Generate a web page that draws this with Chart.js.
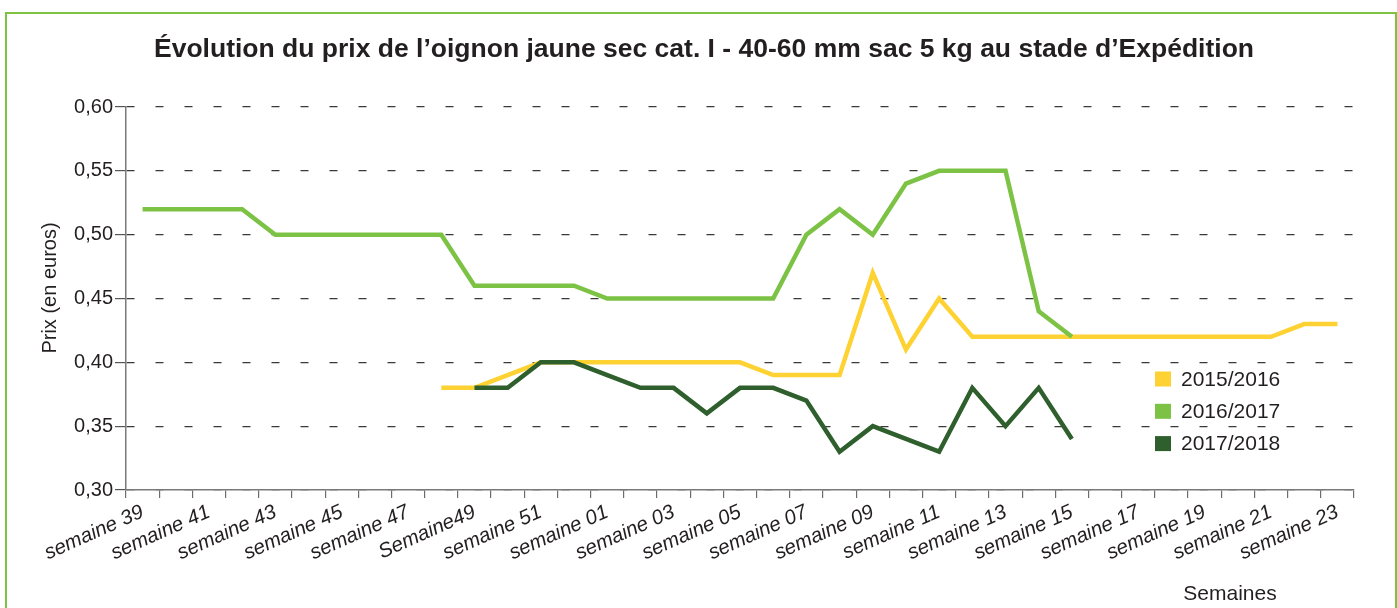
<!DOCTYPE html>
<html><head><meta charset="utf-8">
<script src="https://cdn.jsdelivr.net/npm/chart.js@4.4.0/dist/chart.umd.min.js"></script>
<style>
html,body{margin:0;padding:0;background:#fff;width:1397px;height:608px;overflow:hidden;}
#frame{position:absolute;left:5px;top:12px;width:1388px;height:700px;border:2px solid #7DC243;}
#wrap{position:absolute;left:0;top:0;width:1397px;height:608px;}
</style></head><body>
<div id="frame"></div>
<div id="wrap"><canvas id="c" width="1397" height="608"></canvas></div>
<script>
const titleText = "Évolution du prix de l’oignon jaune sec cat. I - 40-60 mm sac 5 kg au stade d’Expédition";
const yTitle = "Prix (en euros)";
const xTitle = "Semaines";
const weekLabels = ['semaine 39','semaine 40','semaine 41','semaine 42','semaine 43','semaine 44','semaine 45','semaine 46','semaine 47','semaine 48','Semaine49','semaine 50','semaine 51','semaine 52','semaine 01','semaine 02','semaine 03','semaine 04','semaine 05','semaine 06','semaine 07','semaine 08','semaine 09','semaine 10','semaine 11','semaine 12','semaine 13','semaine 14','semaine 15','semaine 16','semaine 17','semaine 18','semaine 19','semaine 20','semaine 21','semaine 22','semaine 23'];
const seriesNames = ['2015/2016','2016/2017','2017/2018'];
const s2015 = [null,null,null,null,null,null,null,null,null,0.38,0.38,0.39,0.40,0.40,0.40,0.40,0.40,0.40,0.40,0.39,0.39,0.39,0.47,0.41,0.45,0.42,0.42,0.42,0.42,0.42,0.42,0.42,0.42,0.42,0.42,0.43,0.43];
const s2016 = [0.52,0.52,0.52,0.52,0.50,0.50,0.50,0.50,0.50,0.50,0.46,0.46,0.46,0.46,0.45,0.45,0.45,0.45,0.45,0.45,0.50,0.52,0.50,0.54,0.55,0.55,0.55,0.44,0.42,null,null,null,null,null,null,null,null];
const s2017 = [null,null,null,null,null,null,null,null,null,null,0.38,0.38,0.40,0.40,0.39,0.38,0.38,0.36,0.38,0.38,0.37,0.33,0.35,0.34,0.33,0.38,0.35,0.38,0.34,null,null,null,null,null,null,null,null];
const yMin = 0.30, yMax = 0.60, yStep = 0.05;
const colors = ['#FED233','#7CC244','#2E5F2D'];

Chart.defaults.font.family = "'Liberation Sans', Arial, sans-serif";
Chart.defaults.color = '#231F20';

const overlay = {
  id: 'overlay',
  afterDraw(chart) {
    const ctx = chart.ctx;
    ctx.save();
    ctx.fillStyle = '#231F20';
    ctx.font = "20px 'Liberation Sans', Arial, sans-serif";
    ctx.textAlign = 'center';
    ctx.textBaseline = 'middle';
    ctx.translate(50, 288);
    ctx.rotate(-Math.PI / 2);
    ctx.fillText(yTitle, 0, 0);
    ctx.restore();

    ctx.save();
    ctx.fillStyle = '#231F20';
    ctx.font = "21px 'Liberation Sans', Arial, sans-serif";
    ctx.textAlign = 'center';
    ctx.textBaseline = 'middle';
    ctx.fillText(xTitle, 1230, 594);

    ctx.textAlign = 'left';
    chart.data.datasets.forEach((ds, i) => {
      const cy = 379 + i * 32.3;
      ctx.fillStyle = ds.borderColor;
      ctx.fillRect(1155, cy - 7.5, 16, 15);
      ctx.fillStyle = '#231F20';
      ctx.fillText(ds.label, 1181, cy + 1);
    });
    ctx.restore();
  }
};

new Chart(document.getElementById('c'), {
  type: 'line',
  data: {
    labels: weekLabels,
    datasets: [
      { label: seriesNames[0], data: s2015, borderColor: colors[0], backgroundColor: colors[0], borderWidth: 4.5, order: 2 },
      { label: seriesNames[1], data: s2016, borderColor: colors[1], backgroundColor: colors[1], borderWidth: 4.5, order: 1 },
      { label: seriesNames[2], data: s2017, borderColor: colors[2], backgroundColor: colors[2], borderWidth: 4.5, order: 0 }
    ]
  },
  options: {
    responsive: false,
    animation: false,
    devicePixelRatio: 1,
    datasets: { line: { pointRadius: 0, tension: 0, spanGaps: false, borderJoinStyle: 'miter', borderCapStyle: 'butt' } },
    layout: { padding: { left: 54, right: 43, top: 0, bottom: 0 } },
    plugins: {
      legend: { display: false },
      tooltip: { enabled: false },
      title: { display: true, text: titleText, font: { size: 26.5, weight: 'bold' }, color: '#231F20', padding: { top: 34, bottom: 41.2 } }
    },
    scales: {
      x: {
        offset: true,
        grid: { display: true, offset: true, drawOnChartArea: false, drawTicks: true, tickLength: 8, color: '#6d6d6d', lineWidth: 1.2 },
        border: { display: true, color: '#7a7a7a', width: 1.5 },
        ticks: { autoSkip: false, maxRotation: 24, minRotation: 24, padding: 2, font: { size: 20.5, style: 'italic' }, color: '#231F20',
          callback: (v, i) => (i % 2 === 0 ? weekLabels[i] : '') },
        afterFit: s => { s.height = 608 - 490; }
      },
      y: {
        min: yMin, max: yMax,
        ticks: { stepSize: yStep, padding: 2, font: { size: 20 }, color: '#231F20',
          callback: v => v.toFixed(2).replace('.', ',') },
        grid: { color: '#3a3a3a', lineWidth: 1.2, tickLength: 11, tickColor: '#555', tickBorderDash: [], drawTicks: true },
        border: { display: true, color: '#7a7a7a', width: 1.5, dash: [8, 21], dashOffset: 0 },
        afterFit: s => { s.width = 126 - 54; }
      }
    }
  },
  plugins: [overlay]
});
</script>
</body></html>
